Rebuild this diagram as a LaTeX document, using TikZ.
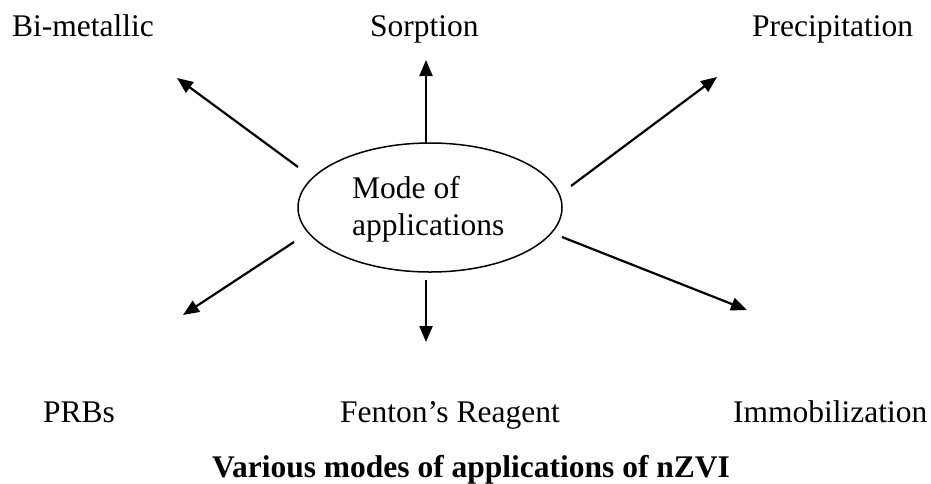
\documentclass[tikz,border=0pt]{standalone}
\usepackage{fontspec}
\setmainfont{Liberation Serif}
\usetikzlibrary{arrows.meta,shapes.geometric}
\begin{document}
\begin{tikzpicture}[x=1pt,y=-1pt,
  lbl/.style={anchor=base west,inner sep=0pt,font=\fontsize{31.5}{37}\selectfont},
  ttl/.style={anchor=base west,inner sep=0pt,font=\fontsize{31.5}{37}\selectfont\bfseries},
  arr/.style={line width=2.2pt,-{Triangle[length=16pt,width=13pt]}},
  hub/.style={draw,line width=1.5pt,ellipse,minimum width=264pt,minimum height=129pt,inner sep=0pt}]
\useasboundingbox (0,0) rectangle (931,483);
\node[hub] (c) at (430,207.5) {};
\node[lbl] (m1) at (352,198) {Mode of};
\node[lbl] (m2) at (352,235) {applications};
\node[lbl] (bi) at (12,36) {Bi-metallic};
\node[lbl] (so) at (370,36) {Sorption};
\node[lbl] (pr) at (752,36) {Precipitation};
\node[lbl] (prb) at (43,422) {PRBs};
\node[lbl] (fe) at (340,422) {Fenton’s Reagent};
\node[lbl] (im) at (733,422) {Immobilization};
\node[ttl] (title) at (212,477) {Various modes of applications of nZVI};
% arrow tails and tips
\coordinate (t1) at (298,167); \coordinate (h1) at (177,78);
\coordinate (t2) at (426,143); \coordinate (h2) at (426,60);
\coordinate (t3) at (571,186); \coordinate (h3) at (717,77);
\coordinate (t4) at (294,242); \coordinate (h4) at (183,315);
\coordinate (t5) at (426,280); \coordinate (h5) at (426,342);
\coordinate (t6) at (562,237); \coordinate (h6) at (747,310);
\draw[arr] (t1) -- (h1);
\draw[arr] (t2) -- (h2);
\draw[arr] (t3) -- (h3);
\draw[arr] (t4) -- (h4);
\draw[arr] (t5) -- (h5);
\draw[arr] (t6) -- (h6);
\end{tikzpicture}
\end{document}
